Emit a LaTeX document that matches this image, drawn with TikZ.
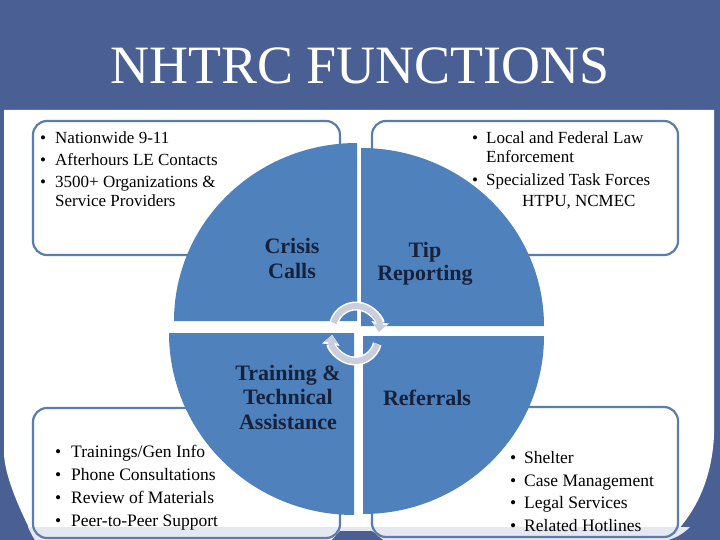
\documentclass[tikz,border=0pt]{standalone}
\usepackage{fontspec}
\setmainfont{Liberation Serif}
\usetikzlibrary{arrows.meta}
\definecolor{slidebg}{HTML}{4A5F94}
\definecolor{quad}{HTML}{4F81BD}
\definecolor{boxline}{HTML}{5B7DAB}
\definecolor{labelcol}{HTML}{16223C}
\definecolor{arccol}{HTML}{C8CEDE}
\definecolor{bandcol}{HTML}{E5E8F1}
\begin{document}
\begin{tikzpicture}[x=1pt,y=-1pt,
  infobox/.style={draw=boxline, line width=2.2pt, rounded corners=14pt, inner sep=0pt, outer sep=0pt},
  bul/.style={font=\fontsize{17}{20}\selectfont, anchor=base west, inner sep=0pt, text=black},
  bulb/.style={font=\fontsize{17.5}{20}\selectfont, anchor=base west, inner sep=0pt, text=black},
  qlabel/.style={font=\fontsize{22}{25}\selectfont\bfseries, text=labelcol, anchor=base, inner sep=0pt},
  quadfill/.style={fill=quad},
  arcbg/.style={draw=white, line width=9pt, -{Triangle[width=17pt,length=10pt]}},
  arcfg/.style={draw=arccol, line width=6pt, -{Triangle[width=13pt,length=8pt]}}
]
\useasboundingbox (0,0) rectangle (720,540);
\fill[slidebg] (0,0) rectangle (720,540);
% white content panel with wavy bottom
\fill[white] (4,110) -- (714,110) -- (714,435) .. controls (712,480) and (695,515) .. (668,540)
  -- (35,540) .. controls (20,510) and (6,480) .. (4,455) -- cycle;
\fill[bandcol] (28,527) -- (690,527) .. controls (684,533) and (676,538) .. (668,540) -- (35,540) .. controls (32,536) and (30,531) .. (28,527) -- cycle;
\fill[slidebg] (332,540) -- (340,531) -- (372,531) -- (383,540) -- cycle;

% boxes
\node[infobox, minimum width=307pt, minimum height=134pt] (tlbox) at (186.5,188) {};
\node[infobox, minimum width=306pt, minimum height=134pt] (trbox) at (525,188) {};
\node[infobox, minimum width=307pt, minimum height=130pt] (blbox) at (186.5,473) {};
\node[infobox, minimum width=306pt, minimum height=130pt] (brbox) at (525,472) {};

% top-left text
\node[bul] (tl1b) at (40,144) {•}; \node[bul] (tl1) at (55,144) {Nationwide 9-11};
\node[bul] (tl2b) at (40,166) {•}; \node[bul] (tl2) at (55,166) {Afterhours LE Contacts};
\node[bul] (tl3b) at (40,188) {•}; \node[bul] (tl3) at (55,188) {3500+ Organizations \&};
\node[bul] (tl4) at (55,207) {Service Providers};
% top-right text
\node[bul] (tr1b) at (472,144) {•}; \node[bul] (tr1) at (486,144) {Local and Federal Law};
\node[bul] (tr2) at (486,163) {Enforcement};
\node[bul] (tr3b) at (472,186) {•}; \node[bul] (tr3) at (486,186) {Specialized Task Forces};
\node[bul] (tr4) at (522,207) {HTPU, NCMEC};
% bottom-left text
\node[bulb] (bl1b) at (55,457) {•}; \node[bulb] (bl1) at (71,457) {Trainings/Gen Info};
\node[bulb] (bl2b) at (55,480) {•}; \node[bulb] (bl2) at (71,480) {Phone Consultations};
\node[bulb] (bl3b) at (55,503) {•}; \node[bulb] (bl3) at (71,503) {Review of Materials};
\node[bulb] (bl4b) at (55,526) {•}; \node[bulb] (bl4) at (71,526) {Peer-to-Peer Support};
% bottom-right text
\node[bulb] (br1b) at (510,463) {•}; \node[bulb] (br1) at (524,463) {Shelter};
\node[bulb] (br2b) at (510,486) {•}; \node[bulb] (br2) at (524,486) {Case Management};
\node[bulb] (br3b) at (510,508) {•}; \node[bulb] (br3) at (524,508) {Legal Services};
\node[bulb] (br4b) at (510,531) {•}; \node[bulb] (br4) at (524,531) {Related Hotlines};

% quadrants
\fill[quadfill] (357,321) -- ++(-183,0) arc[start angle=180,end angle=270,x radius=183,y radius=178] -- cycle;
\fill[quadfill] (361,326) -- ++(0,-178) arc[start angle=270,end angle=360,x radius=183,y radius=178] -- cycle;
\fill[quadfill] (363,336) -- ++(181,0) arc[start angle=0,end angle=90,x radius=181,y radius=178] -- cycle;
\fill[quadfill] (354,333) -- ++(0,182) arc[start angle=90,end angle=180,x radius=185,y radius=182] -- cycle;

% circular arrows
\draw[arcbg] (356,329) ++(195:23) arc[start angle=195,end angle=368,radius=23];
\draw[arcfg] (356,329) ++(195:23) arc[start angle=195,end angle=368,radius=23];
\draw[arcbg] (355,338) ++(15:23) arc[start angle=15,end angle=188,radius=23];
\draw[arcfg] (355,338) ++(15:23) arc[start angle=15,end angle=188,radius=23];

% quadrant labels
\node[qlabel] (crisis1) at (292,253) {Crisis};
\node[qlabel] (crisis2) at (292,278) {Calls};
\node[qlabel] (tip1) at (425,257) {Tip};
\node[qlabel] (tip2) at (425,280) {Reporting};
\node[qlabel] (train1) at (288,380) {Training \&};
\node[qlabel] (train2) at (288,404) {Technical};
\node[qlabel] (train3) at (288,429) {Assistance};
\node[qlabel] (referrals) at (427,405) {Referrals};

% title
\node[font=\fontsize{54}{60}\selectfont, text=white, anchor=base, inner sep=0pt] (title) at (360,84) {NHTRC FUNCTIONS};
\end{tikzpicture}
\end{document}
